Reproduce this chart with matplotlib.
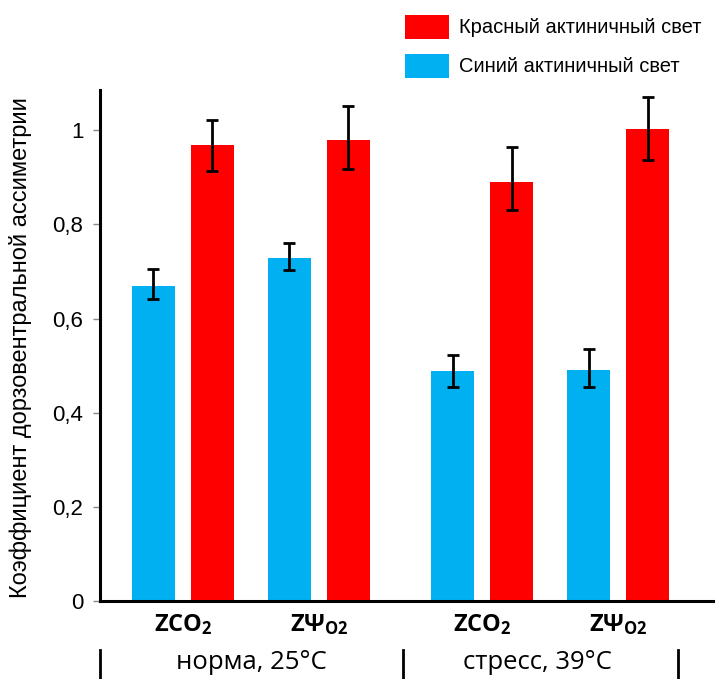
import numpy as np
from matplotlib import pyplot as plt
from matplotlib.patches import Patch

plt.rcParams['font.family'] = ['Liberation Sans', 'DejaVu Sans']
plt.rcParams['mathtext.fontset'] = 'custom'
plt.rcParams['mathtext.rm'] = 'Open Sans'
plt.rcParams['mathtext.bf'] = 'Open Sans:bold'

# data
groups = [r'$\mathbf{ZCO_2}$', r'$\mathbf{Z\Psi_{O2}}$', r'$\mathbf{ZCO_2}$', r'$\mathbf{Z\Psi_{O2}}$']
conditions = ['норма, 25°C', 'стресс, 39°C']
series = ['Красный актиничный свет', 'Синий актиничный свет']
blue_vals = [0.669, 0.728, 0.488, 0.490]
blue_err_lo = [0.028, 0.025, 0.034, 0.036]
blue_err_hi = [0.036, 0.032, 0.034, 0.045]
red_vals = [0.968, 0.979, 0.890, 1.002]
red_err_lo = [0.055, 0.062, 0.060, 0.066]
red_err_hi = [0.053, 0.072, 0.074, 0.068]
yticks = [0, 0.2, 0.4, 0.6, 0.8, 1.0]
ytick_labels = ['0', '0,2', '0,4', '0,6', '0,8', '1']

blue = '#00B0F0'
red = '#FF0000'

x = np.array([0, 1, 2.2, 3.2])
w = 0.316
off = 0.217

fig = plt.figure(figsize=(7.19, 6.79), dpi=100)
ax = fig.add_axes([0.139, 0.115, 0.853, 0.752])

ekw = dict(ecolor='black', elinewidth=2, capsize=4.5, capthick=2)
ax.bar(x - off, blue_vals, w, color=blue, yerr=[blue_err_lo, blue_err_hi], error_kw=ekw)
ax.bar(x + off, red_vals, w, color=red, yerr=[red_err_lo, red_err_hi], error_kw=ekw)

ax.set_xlim(-0.61, 3.90)
ax.set_ylim(0, 1.085)
ax.set_yticks(yticks)
ax.set_yticklabels(ytick_labels, fontsize=16)
ax.set_xticks([])
ax.tick_params(axis='y', length=5, width=1, color='#888888', pad=7)

for s in ['top', 'right']:
    ax.spines[s].set_visible(False)
for s in ['left', 'bottom']:
    ax.spines[s].set_linewidth(2.2)

ax.set_ylabel('Коэффициент дорзовентральной ассиметрии', fontsize=17)
ax.yaxis.set_label_coords(-0.11, 0.497)

trans = ax.get_xaxis_transform()
for xi, g in zip(x, groups):
    ax.text(xi, -0.047, g, transform=trans, ha='center', va='center', fontsize=17)

for xc, c in zip([0.50, 2.61], conditions):
    ax.text(xc, -0.121, c, transform=trans, ha='center', va='center',
            fontsize=18.5, family='Open Sans')
for xs in [-0.61, 1.62, 3.64]:
    ax.plot([xs, xs], [-0.096, -0.155], transform=trans, color='black', lw=2, clip_on=False)

handles = [Patch(facecolor=red), Patch(facecolor=blue)]
fig.legend(handles, series, loc='upper left', bbox_to_anchor=(0.552, 0.99),
           frameon=False, fontsize=14.5, handlelength=2.2, handleheight=1.45,
           labelspacing=0.75, handletextpad=0.5, borderaxespad=0)

plt.savefig('out.png', dpi=100)
